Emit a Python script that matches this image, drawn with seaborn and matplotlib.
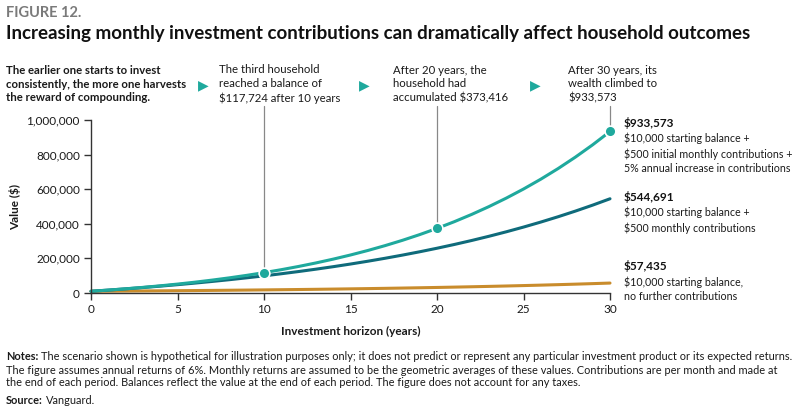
import matplotlib
matplotlib.use("Agg")
import matplotlib.pyplot as plt
import seaborn as sns
import pandas as pd
import numpy as np

years = list(range(0, 31))
increasing = [10000, 16763, 24240, 32489, 41572, 51557, 62516, 74526, 87670, 102036,
              117724, 134826, 153457, 173732, 195777, 219726, 245722, 273918, 304479, 337580,
              373416, 412173, 454073, 499346, 548237, 601007, 657937, 719327, 785497, 856787,
              933573]
monthly = [10000, 16763, 23931, 31528, 39587, 48119, 57170, 66761, 76928, 87714,
           99132, 111248, 124086, 137690, 152117, 167412, 183620, 200797, 219000, 238308,
           258764, 280462, 303443, 327811, 353645, 381033, 410056, 440815, 473433, 508002,
           544691]
starting = [10000, 10600, 11236, 11910, 12625, 13382, 14185, 15036, 15938, 16895,
            17908, 18983, 20122, 21329, 22609, 23966, 25404, 26928, 28543, 30256,
            32071, 33996, 36035, 38197, 40489, 42919, 45494, 48223, 51117, 54184,
            57435]
series_names = ["Increasing contributions", "Monthly contributions", "Starting balance only"]
highlight_years = [10, 20, 30]
highlight_values = [117724, 373416, 933573]
end_labels = ["$933,573", "$544,691", "$57,435"]
end_desc = [
    "$10,000 starting balance +\n$500 initial monthly contributions +\n5% annual increase in contributions",
    "$10,000 starting balance +\n$500 monthly contributions",
    "$10,000 starting balance,\nno further contributions",
]
annotations = [
    "The third household\nreached a balance of\n$117,724 after 10 years",
    "After 20 years, the\nhousehold had\naccumulated $373,416",
    "After 30 years, its\nwealth climbed to\n$933,573",
]
yticks = [0, 200000, 400000, 600000, 800000, 1000000]
xticks = [0, 5, 10, 15, 20, 25, 30]

C_LIGHT = "#1fa99d"
C_DARK = "#0f6b7b"
C_GOLD = "#c98c2c"
TXT = "#1a1a1a"

sns.set_theme(style="white")
plt.rcParams["font.family"] = ["Lato", "DejaVu Sans"]

W, H = 800, 412
fig = plt.figure(figsize=(8, 4.12), dpi=100)

def px(x, y):
    return x / W, 1 - y / H

ax_l, ax_r, ax_t, ax_b = 91, 610, 120, 293
ax = fig.add_axes([ax_l / W, 1 - ax_b / H, (ax_r - ax_l) / W, (ax_b - ax_t) / H])

df = pd.DataFrame({
    "year": years * 3,
    "value": increasing + monthly + starting,
    "series": [series_names[0]] * len(years) + [series_names[1]] * len(years) + [series_names[2]] * len(years),
})
sns.lineplot(data=df, x="year", y="value", hue="series", hue_order=series_names[::-1],
             palette={series_names[0]: C_LIGHT, series_names[1]: C_DARK, series_names[2]: C_GOLD},
             linewidth=2.2, legend=False, ax=ax, clip_on=False)

ax.set_xlim(0, 30)
ax.set_ylim(0, 1000000)
ax.set_xticks(xticks)
ax.set_xticklabels([str(t) for t in xticks])
ax.set_yticks(yticks)
ax.set_yticklabels([f"{v:,}" for v in yticks])
for s in ["top", "right"]:
    ax.spines[s].set_visible(False)
for s in ["left", "bottom"]:
    ax.spines[s].set_color("#333333")
    ax.spines[s].set_linewidth(1.0)
ax.tick_params(axis="both", direction="out", length=5, width=1, color="#333333",
               labelsize=8.5, labelcolor=TXT, left=True, bottom=True, pad=3)
for t, lab in zip(ax.xaxis.get_major_ticks(), xticks):
    if lab in (10, 20):
        t.tick1line.set_color("#aaaaaa")

ax.set_xlabel("Investment horizon (years)", fontsize=8.5, fontweight="bold", color=TXT, labelpad=8)
ax.set_ylabel("Value ($)", fontsize=8.5, fontweight="bold", color=TXT, labelpad=4)

# vertical annotation lines
top_y = ax.transData.inverted().transform((0, (H - 106)))[1]
for xv, yv in zip(highlight_years, highlight_values):
    ax.plot([xv, xv], [yv, top_y], color="#888888", linewidth=0.9, clip_on=False, zorder=1)
ax.scatter(highlight_years, highlight_values, s=60, color=C_LIGHT, edgecolor="white",
           linewidth=1.2, zorder=5, clip_on=False)

# header texts
fig.text(*px(6, 13), "FIGURE 12.", fontsize=10.5, fontweight="bold", color="#7a7a7a", va="center", ha="left")
fig.text(*px(6, 34), "Increasing monthly investment contributions can dramatically affect household outcomes",
         fontsize=13.5, fontweight="bold", color="#111111", va="center", ha="left")
fig.text(*px(6, 84), "The earlier one starts to invest\nconsistently, the more one harvests\nthe reward of compounding.",
         fontsize=8.2, fontweight="bold", color=TXT, va="center", ha="left", linespacing=1.3)
for x, txt in zip([219, 393, 568], annotations):
    fig.text(*px(x, 84), txt, fontsize=8.2, color=TXT, va="center", ha="left", linespacing=1.3)
for x in [203, 364, 535]:
    fig.text(*px(x, 85), "\u25B6", fontsize=10, color=C_LIGHT, va="center", ha="center",
             family=["DejaVu Sans"])

# right-side labels
for y0, lab, desc in zip([123, 197, 266], end_labels, end_desc):
    fig.text(*px(624, y0), lab, fontsize=8.5, fontweight="bold", color="#111111", va="center", ha="left")
    fig.text(*px(624, y0 + 10), desc, fontsize=7.7, color=TXT, va="top", ha="left", linespacing=1.38)

# notes
renderer = fig.canvas.get_renderer()
notes_lines = ["The scenario shown is hypothetical for illustration purposes only; it does not predict or represent any particular investment product or its expected returns.",
               "The figure assumes annual returns of 6%. Monthly returns are assumed to be the geometric averages of these values. Contributions are per month and made at",
               "the end of each period. Balances reflect the value at the end of each period. The figure does not account for any taxes."]
fs_n = 7.95
t_notes = fig.text(*px(6, 356), "Notes:", fontsize=fs_n, fontweight="bold", color=TXT, va="center", ha="left")
wn = t_notes.get_window_extent(renderer).width
fig.text(*px(6 + wn + 3, 356), notes_lines[0], fontsize=fs_n, color=TXT, va="center", ha="left")
fig.text(*px(6, 370), notes_lines[1], fontsize=fs_n, color=TXT, va="center", ha="left")
fig.text(*px(6, 383), notes_lines[2], fontsize=fs_n, color=TXT, va="center", ha="left")
t_src = fig.text(*px(6, 400), "Source:", fontsize=fs_n, fontweight="bold", color=TXT, va="center", ha="left")
ws = t_src.get_window_extent(renderer).width
fig.text(*px(6 + ws + 3, 400), "Vanguard.", fontsize=fs_n, color=TXT, va="center", ha="left")

fig.savefig("out.png", dpi=100)
